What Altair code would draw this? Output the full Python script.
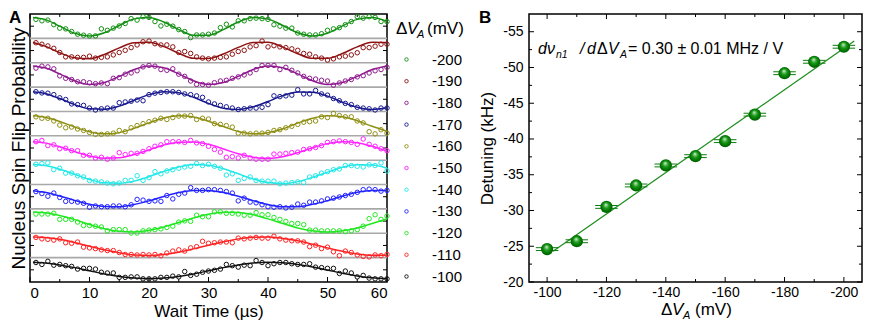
import altair as alt
import pandas as pd

# ---------------- Panel A data ----------------
series = ["-200", "-190", "-180", "-170", "-160", "-150", "-140", "-130", "-120", "-110", "-100"]
colors = ["#139013", "#8e1212", "#8f1a8f", "#18188e", "#8f8f14", "#ff22ff", "#22e8e8", "#2222ff", "#22e822", "#ff2222", "#111111"]

wait_t = list(range(1, 61))

# data circles: height inside each strip, % of strip height
circ_m200 = [78,72,75,56,42,39,28,17,13,10,10,39,33,42,51,61,81,75,89,86,69,51,58,50,36,28,3,14,14,17,
             22,44,58,47,72,72,81,83,81,78,56,50,42,42,22,17,14,14,19,33,39,44,56,69,89,83,89,86,69,69]
circ_m190 = [82,76,69,59,42,24,24,22,22,27,19,22,24,32,42,51,62,73,86,89,78,73,73,65,42,46,38,24,19,16,
             19,22,24,35,46,51,65,70,89,65,70,65,62,57,51,38,35,24,19,11,16,24,27,32,41,62,62,68,76,76]
circ_m180 = [78,86,83,75,46,36,31,22,22,18,14,17,14,36,39,53,58,67,83,89,86,72,69,75,53,44,25,11,11,8,
             18,25,28,36,42,50,58,72,89,89,89,72,81,69,58,44,36,33,28,25,8,17,25,31,42,47,58,67,72,81]
circ_m170 = [81,76,75,69,56,49,31,28,25,14,6,11,14,14,36,39,42,47,44,69,75,78,81,81,78,72,69,64,58,39,
             31,25,19,14,8,11,14,14,17,28,64,61,64,67,89,72,72,86,72,67,53,44,33,28,17,14,11,6,14,14]
circ_m160 = [78,72,72,61,44,33,36,28,22,14,6,6,8,11,22,17,33,42,50,58,64,72,67,75,81,81,83,67,72,69,
             50,47,42,36,11,11,8,11,11,14,22,25,33,39,47,56,58,61,78,75,92,83,78,78,61,53,17,8,25,11]
circ_m150 = [76,81,60,63,47,49,39,39,20,20,9,12,4,9,31,23,28,28,36,47,57,63,76,76,76,73,81,71,68,57,
             44,33,12,15,9,20,9,4,4,4,25,25,28,31,33,44,47,52,60,73,76,79,76,73,65,87,65,57,47,39]
circ_m140 = [83,86,89,61,67,47,47,36,31,17,14,11,6,3,6,17,17,36,17,28,53,44,56,61,67,72,75,86,78,83,
             75,67,39,44,17,25,31,17,14,14,14,3,6,8,11,8,31,36,47,53,61,64,78,78,75,72,81,78,89,56]
circ_m130 = [71,63,52,65,47,31,31,28,23,7,12,9,9,12,12,9,17,39,36,31,33,31,55,41,60,65,87,76,76,79,
             79,76,71,65,33,44,28,25,17,9,7,9,4,7,20,15,28,28,33,41,44,49,55,60,68,79,81,79,73,76]
circ_m120 = [79,79,79,82,57,57,57,46,32,32,29,26,10,15,15,15,1,1,10,13,15,18,24,29,46,51,49,74,68,68,
             88,88,82,82,79,74,74,85,76,76,65,57,49,40,40,35,13,13,10,10,10,10,7,10,15,29,60,76,57,71]
circ_m110 = [83,77,75,72,77,61,59,64,43,40,37,32,29,29,21,13,13,11,13,11,13,8,19,27,32,27,40,45,67,59,
             61,64,64,61,80,77,80,83,80,80,88,77,72,69,69,64,45,51,37,43,24,8,27,21,11,5,3,11,8,13]
circ_m100 = [80,72,85,69,72,67,64,53,56,56,53,40,37,37,19,19,21,21,13,13,13,19,19,24,21,43,27,32,40,45,
             48,53,72,67,61,69,67,88,80,67,75,80,80,75,72,72,75,61,59,56,56,35,45,37,21,27,16,13,13,13]

# fitted curves, % of strip height
fit_t = [0.5,2.5,5,7.5,10,12.5,15,17.5,20,22.5,25,27.5,30,32.5,35,37.5,40,42.5,45,47.5,50,52.5,55,57.5,60]
fit_m200 = [86,78,50,21,10,23,53,80,86,67,36,13,13,36,67,86,79,53,23,10,21,51,78,86,69]
fit_m190 = [83,68,41,20,16,34,61,82,84,66,39,18,17,36,63,83,84,64,37,18,18,38,65,84,83]
fit_m180 = [87,79,54,26,11,19,44,72,87,79,54,26,11,19,44,72,87,79,54,26,11,19,44,72,87]
fit_m170 = [81,74,53,28,11,9,22,46,69,81,77,58,33,13,8,19,41,65,80,79,63,38,17,8,15]
fit_m160 = [82,76,59,36,17,8,13,31,53,73,82,77,60,38,18,8,13,29,52,72,82,78,62,39,19]
fit_m150 = [76,71,55,35,17,8,10,23,42,62,74,75,65,46,26,12,7,14,31,51,68,76,72,57,37]
fit_m140 = [82,78,63,42,21,7,5,14,32,54,72,82,79,65,44,23,8,4,12,30,51,71,81,80,67]
fit_m130 = [75,68,53,35,19,10,9,18,33,51,67,76,76,67,52,34,18,9,9,19,34,52,68,76,76]
fit_m120 = [87,84,73,56,36,19,8,5,12,26,44,63,78,86,85,76,59,40,22,10,5,10,22,40,59]
fit_m110 = [85,83,75,62,47,32,20,11,9,13,22,36,51,65,77,84,85,79,69,55,40,26,15,10,10]
fit_m100 = [81,78,70,59,46,33,23,16,13,16,23,33,46,59,70,78,81,79,72,62,49,36,25,17,13]

a_major_x = [0, 10, 20, 30, 40, 50, 60]
a_minor_x = [5, 15, 25, 35, 45, 55]

# ---------------- Panel B data ----------------
dva = [-100, -110, -120, -130, -140, -150, -160, -170, -180, -190, -200]
detuning = [-24.6, -25.7, -30.5, -33.5, -36.3, -37.6, -39.7, -43.4, -49.2, -50.8, -52.9]
err_x = [3.8, 3.8, 3.8, 3.8, 3.8, 3.8, 3.8, 3.8, 3.8, 3.8, 3.8]
err_y = [0.2, 0.2, 0.2, 0.2, 0.2, 0.2, 0.2, 0.2, 0.2, 0.2, 0.2]
fit_line_x = [-102.0, -203.5]
fit_line_y = [-24.3, -53.7]

b_major_x = [-100, -120, -140, -160, -180, -200]
b_minor_x = [-110, -130, -150, -170, -190]
b_major_y = [-20, -25, -30, -35, -40, -45, -50, -55]
b_minor_y = [-22.5, -27.5, -32.5, -37.5, -42.5, -47.5, -52.5]

FONT = "Liberation Sans"
WA, WB, H = 357, 333, 268

# ---------------- build tables ----------------
circ_all = [circ_m200, circ_m190, circ_m180, circ_m170, circ_m160, circ_m150,
            circ_m140, circ_m130, circ_m120, circ_m110, circ_m100]
fit_all = [fit_m200, fit_m190, fit_m180, fit_m170, fit_m160, fit_m150,
           fit_m140, fit_m130, fit_m120, fit_m110, fit_m100]
curve_names = ["fit " + s for s in series]
n = len(series)
pts = pd.DataFrame([{"series": s, "t": t, "y": (n - 1 - i) + v / 100.0}
                    for i, s in enumerate(series) for t, v in zip(wait_t, circ_all[i])])
fits = pd.DataFrame([{"curve": curve_names[i], "t": t, "y": (n - 1 - i) + v / 100.0}
                     for i, s in enumerate(series) for t, v in zip(fit_t, fit_all[i])])
seps = pd.DataFrame({"y": list(range(1, n))})
one = pd.DataFrame({"k": [0]})

xA_scale = alt.Scale(domain=[0, 60], nice=False, zero=False)
yA_scale = alt.Scale(domain=[0, n], nice=False, zero=False)
xA_axis = alt.Axis(values=a_major_x, ticks=False, tickSize=0, domain=False, grid=False,
                   labelFontSize=15, labelPadding=3, title="Wait Time (µs)", titleFontSize=17,
                   titleFontWeight="normal", titlePadding=3)
yA_axis = alt.Axis(labels=False, ticks=False, domain=False, grid=False,
                   title="Nucleus Spin Flip Probability", titleFontSize=19, titleFontWeight="normal",
                   titlePadding=2)
XA = alt.X("t:Q", scale=xA_scale, axis=xA_axis)
YA = alt.Y("y:Q", scale=yA_scale, axis=yA_axis)


def txt(x, y, s, size, style="normal", weight="normal", align="left"):
    return alt.Chart(one).mark_text(text=s, fontSize=size, fontStyle=style, fontWeight=weight,
                                    align=align, baseline="alphabetic", font=FONT,
                                    color="black").encode(x=alt.value(x), y=alt.value(y))


def xticks(vals, X, length):
    d = pd.DataFrame({X.shorthand.split(":")[0]: vals})
    bot = alt.Chart(d).mark_rule(color="black", strokeWidth=1).encode(
        x=X, y=alt.value(H), y2=alt.value(H - length))
    top = alt.Chart(d).mark_rule(color="black", strokeWidth=1).encode(
        x=X, y=alt.value(0), y2=alt.value(length))
    return [bot, top]


def yticks(vals, Y, length, W_):
    d = pd.DataFrame({Y.shorthand.split(":")[0]: vals})
    left = alt.Chart(d).mark_rule(color="black", strokeWidth=1).encode(
        y=Y, x=alt.value(0), x2=alt.value(length))
    right = alt.Chart(d).mark_rule(color="black", strokeWidth=1).encode(
        y=Y, x=alt.value(W_ - length), x2=alt.value(W_))
    return [left, right]


sep_layer = alt.Chart(seps).mark_rule(color="#a8a8a8", strokeWidth=1.6).encode(y=YA)
line_layer = alt.Chart(fits).mark_line(strokeWidth=1.5, interpolate="monotone").encode(
    x=XA, y=YA,
    stroke=alt.Stroke("curve:N", scale=alt.Scale(domain=curve_names, range=colors), legend=None))
point_layer = alt.Chart(pts).mark_point(shape="circle", filled=False, size=20, strokeWidth=1,
                                        opacity=1).encode(
    x=XA, y=YA,
    color=alt.Color("series:N", scale=alt.Scale(domain=series, range=colors),
                    legend=alt.Legend(orient="none", legendX=369, legendY=38, title=None,
                                      symbolType="circle", symbolSize=12, symbolStrokeWidth=0.9,
                                      labelFontSize=15, labelFont=FONT, labelColor="black",
                                      labelOffset=18, rowPadding=5.7, padding=0)))

a_ticks = (xticks(a_major_x, XA, 5) + xticks(a_minor_x, XA, 3)
           + yticks([k + 0.5 for k in range(n)], YA, 4, WA))

a_texts = [
    txt(-21, 9, "A", 17, weight="bold"),
    txt(366, 20, "Δ", 17),
    txt(377, 20, "V", 17, style="italic"),
    txt(387, 24, "A", 11, style="italic"),
    txt(397, 20, "(mV)", 17),
]

panelA = alt.layer(sep_layer, *a_ticks, line_layer, point_layer, *a_texts).properties(width=WA, height=H)

# ---------------- Panel B ----------------
bpts = pd.DataFrame({"x": dva, "y": detuning})
bpts["x_lo"] = [a + e for a, e in zip(dva, err_x)]
bpts["x_hi"] = [a - e for a, e in zip(dva, err_x)]
bpts["y_top"] = [a - e for a, e in zip(detuning, err_y)]
bpts["y_bot"] = [a + e for a, e in zip(detuning, err_y)]
bfit = pd.DataFrame({"x": fit_line_x, "y": fit_line_y})

neg_label = "'-' + format(abs(datum.value), 'd')"
xB_scale = alt.Scale(domain=[-93.9, -206.1], nice=False, zero=False)
yB_scale = alt.Scale(domain=[-20, -57.48], nice=False, zero=False)
xB_axis = alt.Axis(values=b_major_x, ticks=False, tickSize=0, domain=False, grid=False,
                   labelFontSize=14, labelPadding=3, labelExpr=neg_label, title=None)
yB_axis = alt.Axis(values=b_major_y, ticks=False, domain=False, grid=False, labelFontSize=14,
                   labelPadding=6, labelExpr=neg_label, title="Detuning (kHz)", titleFontSize=17,
                   titleFontWeight="normal", titlePadding=6)
XB = alt.X("x:Q", scale=xB_scale, axis=xB_axis)
YB = alt.Y("y:Q", scale=yB_scale, axis=yB_axis)

ball = alt.RadialGradient(
    gradient="radial", x1=0.45, y1=0.3, r1=0, x2=0.5, y2=0.5, r2=0.55,
    stops=[alt.GradientStop(color="#f4fff4", offset=0),
           alt.GradientStop(color="#9fd89f", offset=0.12),
           alt.GradientStop(color="#1b9a1b", offset=0.42),
           alt.GradientStop(color="#007400", offset=0.75),
           alt.GradientStop(color="#005200", offset=1)])

fit_b = alt.Chart(bfit).mark_line(color="#1f8f1f", strokeWidth=1.3).encode(x=XB, y=YB)
cap_top = alt.Chart(bpts).mark_rule(color="#0b7d0b", strokeWidth=1).encode(
    x=alt.X("x_lo:Q", scale=xB_scale, axis=xB_axis), x2="x_hi:Q",
    y=alt.Y("y_top:Q", scale=yB_scale, axis=yB_axis))
cap_bot = alt.Chart(bpts).mark_rule(color="#0b7d0b", strokeWidth=1).encode(
    x=alt.X("x_lo:Q", scale=xB_scale, axis=xB_axis), x2="x_hi:Q",
    y=alt.Y("y_bot:Q", scale=yB_scale, axis=yB_axis))
balls = alt.Chart(bpts).mark_circle(size=150, opacity=1, fill=ball).encode(x=XB, y=YB)

b_ticks = (xticks(b_major_x, XB, 5) + xticks(b_minor_x, XB, 3)
           + yticks(b_major_y, YB, 5, WB) + yticks(b_minor_y, YB, 3, WB))

b_texts = [
    txt(-50, 9, "B", 17, weight="bold"),
    txt(9, 40, "d", 16, style="italic"),
    txt(18, 40, "ν", 16, style="italic"),
    txt(27, 44, "n1", 10.5, style="italic"),
    txt(51, 40, "/", 16, style="italic"),
    txt(58, 40, "d", 16, style="italic"),
    txt(68, 40, "Δ", 16),
    txt(79, 40, "V", 16, style="italic"),
    txt(91, 44, "A", 10.5, style="italic"),
    txt(99, 40, "= 0.30 ± 0.01 MHz / V", 16),
    txt(132, 301, "Δ", 17),
    txt(143, 301, "V", 17, style="italic"),
    txt(154, 305, "A", 11, style="italic"),
    txt(166, 301, "(mV)", 17),
]

panelB = alt.layer(*b_ticks, fit_b, cap_top, cap_bot, balls, *b_texts).properties(width=WB, height=H)

chart = alt.hconcat(panelA, panelB, spacing=142, bounds="flush",
                    padding={"left": 0, "top": 0, "right": 0, "bottom": 0}).configure(
    font=FONT).configure_axis(labelFont=FONT, titleFont=FONT, labelColor="black",
                              titleColor="black").configure_view(stroke="black", strokeWidth=1.5)

chart.save("out.html", embed_options={"renderer": "svg", "actions": False})
